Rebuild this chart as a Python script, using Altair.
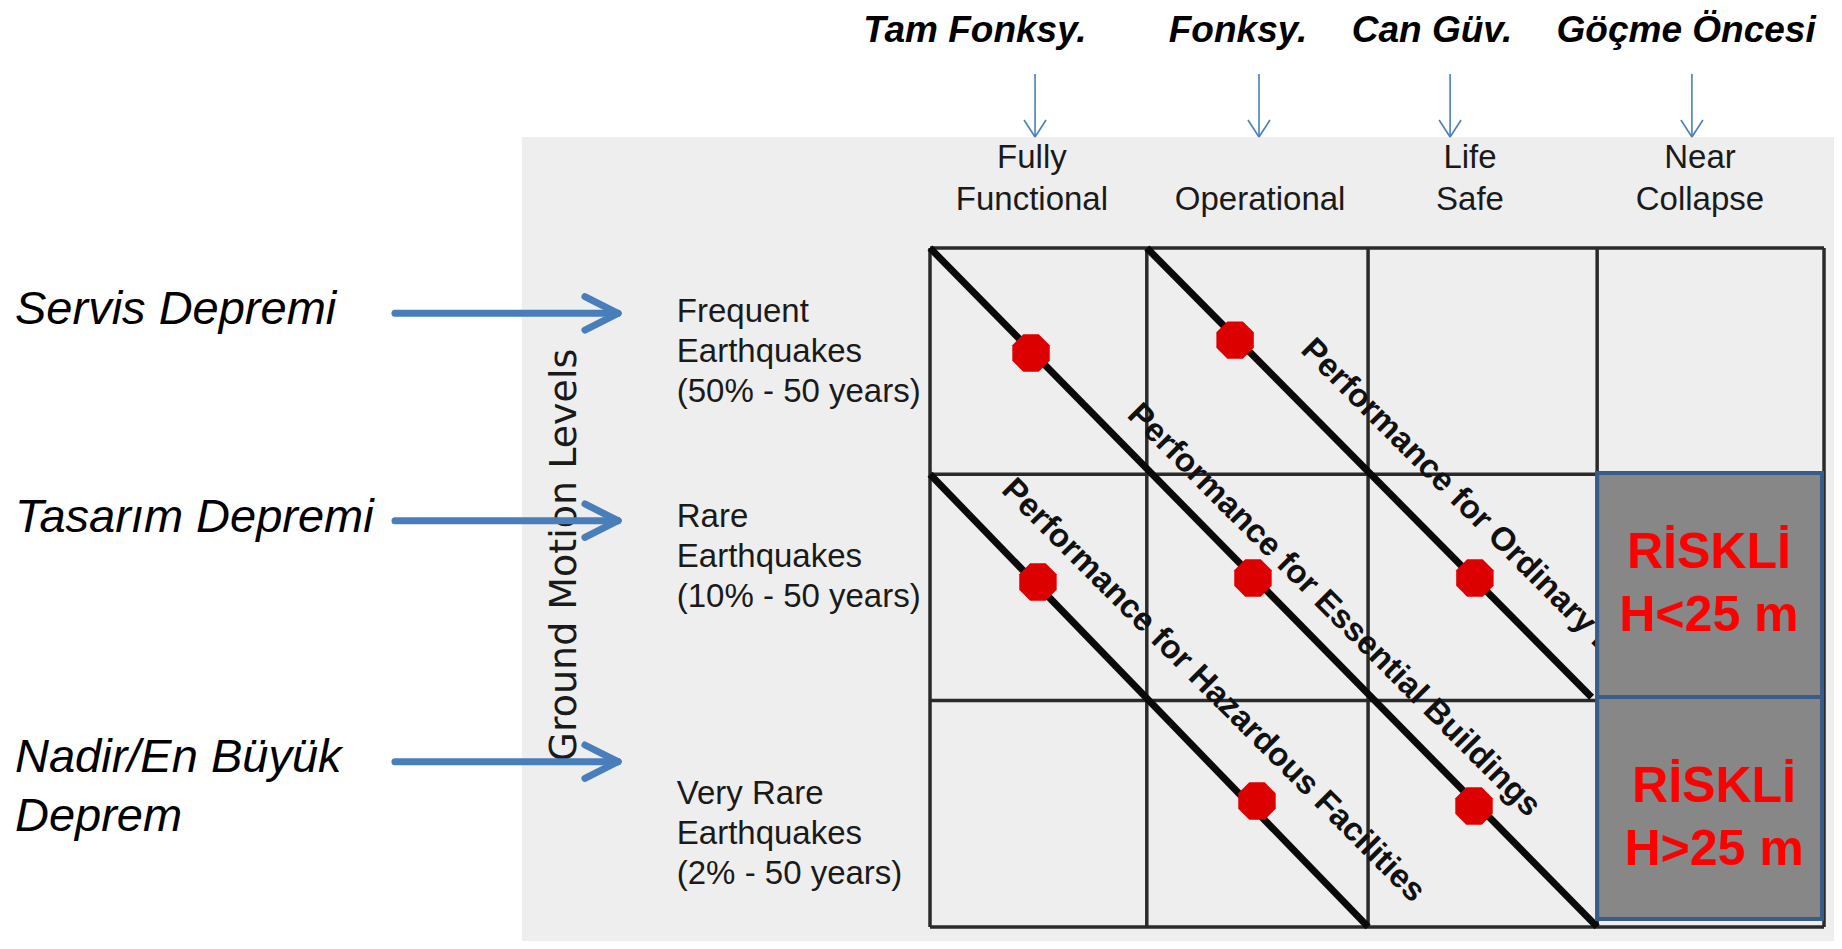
import altair as alt
import pandas as pd

# ---------------- data (grid units: 1 column / 1 row of the matrix) ----------------
# performance levels (columns)
perf_top_line = ["Fully", "", "Life", "Near"]
perf_bottom_line = ["Functional", "Operational", "Safe", "Collapse"]
perf_col = [0.456, 1.477, 2.416, 3.445]
perf_tr = ["Tam Fonksy.", "Fonksy.", "Can Güv.", "Göçme Öncesi"]
perf_tr_col = [0.201, 1.378, 2.246, 3.383]
perf_arrow_col = [0.470, 1.472, 2.327, 3.409]

# ground motion levels (rows)
gm_en = ["Frequent\nEarthquakes\n(50% - 50 years)",
         "Rare\nEarthquakes\n(10% - 50 years)",
         "Very Rare\nEarthquakes\n(2% - 50 years)"]
gm_en_row = [0.329, 1.235, 2.457]
gm_tr = ["Servis Depremi", "Tasarım Depremi", "Nadir/En Büyük\nDeprem"]
gm_tr_row = [0.336, 1.255, 2.316]
gm_arrow_row = [0.2886, 1.205, 2.270]

# grid
col_edges = [0.0, 0.97, 1.96, 2.985, 4.0]
row_edges = [0.0, 1.0, 2.0, 3.0]

# performance objectives (diagonals)
objectives = ["Performance for Ordinary Buildings",
              "Performance for Essential Buildings",
              "Performance for Hazardous Facilities"]
obj_c0 = [0.97, 0.0, 0.0]
obj_r0 = [0.0, 0.0, 1.0]
obj_c1 = [2.96, 2.985, 1.96]
obj_r1 = [1.985, 3.0, 3.0]
obj_label_c = [2.572, 1.808, 1.268]
obj_label_r = [1.302, 1.600, 1.955]

# red points
pt_col = [0.452, 1.365, 0.483, 1.445, 2.438, 1.463, 2.434]
pt_row = [0.464, 0.407, 1.476, 1.458, 1.458, 2.444, 2.466]

# risky cells
risk_text = ["RİSKLİ\nH<25 m", "RİSKLİ\nH>25 m"]
risk_c0 = [2.985, 2.985]
risk_c1 = [3.991, 3.991]
risk_r0 = [0.994, 1.984]
risk_r1 = [1.984, 2.965]
risk_label_c = [3.485, 3.508]
risk_label_r = [1.414, 2.448]

# ---------------- layout frame ----------------
X_DOM = [-4.1253, 4.0447]
Y_DOM = [-1.0605, 3.0623]
xs = alt.Scale(domain=X_DOM, nice=False, zero=False)
ys = alt.Scale(domain=Y_DOM, nice=False, zero=False, reverse=True)


def X(f):
    return alt.X(f, type="quantitative", scale=xs, axis=None)


def Y(f):
    return alt.Y(f, type="quantitative", scale=ys, axis=None)


FONT = "Liberation Sans"
BLUE = "#4a7ebb"

# scanned background
bg_df = pd.DataFrame({"x1": [-1.826], "x2": [X_DOM[1]], "y1": [-0.4905], "y2": [Y_DOM[1]]})
bg = alt.Chart(bg_df).mark_rect(color="#eeeeee").encode(
    x=X("x1"), x2="x2", y=Y("y1"), y2="y2")

# grid
grid_rows = []
for c in col_edges:
    grid_rows.append({"x1": c, "x2": c, "y1": row_edges[0], "y2": row_edges[-1]})
for r in row_edges:
    grid_rows.append({"x1": col_edges[0], "x2": col_edges[-1], "y1": r, "y2": r})
grid = alt.Chart(pd.DataFrame(grid_rows)).mark_rule(color="#2a2a2a", strokeWidth=3.5).encode(
    x=X("x1"), x2="x2", y=Y("y1"), y2="y2")

# diagonals
obj_df = pd.DataFrame({"name": objectives, "c0": obj_c0, "r0": obj_r0, "c1": obj_c1, "r1": obj_r1,
                       "lc": obj_label_c, "lr": obj_label_r})
diag = alt.Chart(obj_df).mark_rule(color="#0a0a0a", strokeWidth=7).encode(
    x=X("c0"), x2="c1", y=Y("r0"), y2="r1")
diag_text = alt.Chart(obj_df).mark_text(
    angle=45, align="center", baseline="middle", font=FONT, fontSize=33, fontWeight="bold",
    color="#111111").encode(x=X("lc"), y=Y("lr"), text="name")

# points
octagon = "M -0.414 -1 L 0.414 -1 L 1 -0.414 L 1 0.414 L 0.414 1 L -0.414 1 L -1 0.414 L -1 -0.414 Z"
pts = alt.Chart(pd.DataFrame({"c": pt_col, "r": pt_row})).mark_point(
    shape=octagon, filled=True, size=1400, color="#dd0000", opacity=1).encode(x=X("c"), y=Y("r"))

# risky boxes
risk_df = pd.DataFrame({"t": risk_text, "c0": risk_c0, "c1": risk_c1, "r0": risk_r0, "r1": risk_r1,
                        "lc": risk_label_c, "lr": risk_label_r})
risk_box = alt.Chart(risk_df).mark_rect(color="#878787", stroke="#385d8a", strokeWidth=4).encode(
    x=X("c0"), x2="c1", y=Y("r0"), y2="r1")
risk_lbl = alt.Chart(risk_df).mark_text(
    align="center", baseline="alphabetic", lineBreak="\n", lineHeight=63.5, font=FONT, fontSize=50,
    fontWeight="bold", color="#ff0000").encode(x=X("lc"), y=Y("lr"), text="t")

# column headers (English)
head_df = pd.DataFrame({"c": perf_col, "l1": perf_top_line, "l2": perf_bottom_line,
                        "v1": [-0.3535] * 4, "v2": [-0.1679] * 4})
head1 = alt.Chart(head_df).mark_text(align="center", baseline="alphabetic", font=FONT, fontSize=33,
                                     color="#1a1a1a").encode(x=X("c"), y=Y("v1"), text="l1")
head2 = alt.Chart(head_df).mark_text(align="center", baseline="alphabetic", font=FONT, fontSize=33,
                                     color="#1a1a1a").encode(x=X("c"), y=Y("v2"), text="l2")

# Turkish column labels
tr_df = pd.DataFrame({"c": perf_tr_col, "t": perf_tr, "v": [-0.910] * 4})
tr_top = alt.Chart(tr_df).mark_text(align="center", baseline="alphabetic", font=FONT, fontSize=37,
                                    fontWeight="bold", fontStyle="italic", color="#000000").encode(
    x=X("c"), y=Y("v"), text="t")

# thin arrows down
seg = []
for c in perf_arrow_col:
    seg.append({"x1": c, "x2": c, "y1": -0.769, "y2": -0.4905})
    seg.append({"x1": c - 0.0492, "x2": c, "y1": -0.5656, "y2": -0.4905})
    seg.append({"x1": c + 0.0492, "x2": c, "y1": -0.5656, "y2": -0.4905})
top_arrows = alt.Chart(pd.DataFrame(seg)).mark_rule(color=BLUE, strokeWidth=1.6).encode(
    x=X("x1"), x2="x2", y=Y("y1"), y2="y2")

# row labels (English)
gm_df = pd.DataFrame({"t": gm_en, "r": gm_en_row, "c": [-1.133] * 3})
gm_lbl = alt.Chart(gm_df).mark_text(align="left", baseline="alphabetic", lineBreak="\n", lineHeight=40,
                                    font=FONT, fontSize=33, color="#1a1a1a").encode(
    x=X("c"), y=Y("r"), text="t")

# vertical axis label
gml_df = pd.DataFrame({"t": ["Ground Motion Levels"], "c": [-1.585], "r": [1.357]})
gml = alt.Chart(gml_df).mark_text(angle=270, align="center", baseline="alphabetic",
                                  font="DejaVu Sans", fontSize=38, color="#1a1a1a").encode(
    x=X("c"), y=Y("r"), text="t")

# Turkish row labels
gmtr_df = pd.DataFrame({"t": gm_tr, "r": gm_tr_row, "c": [-4.094] * 3})
gm_tr_lbl = alt.Chart(gmtr_df).mark_text(align="left", baseline="alphabetic", lineBreak="\n",
                                         lineHeight=58.5, font=FONT, fontSize=47, fontStyle="italic",
                                         color="#000000").encode(x=X("c"), y=Y("r"), text="t")

# thick blue arrows
seg2 = []
for r in gm_arrow_row:
    seg2.append({"x1": -2.394, "x2": -1.396, "y1": r, "y2": r})
    seg2.append({"x1": -1.544, "x2": -1.396, "y1": r - 0.0738, "y2": r})
    seg2.append({"x1": -1.544, "x2": -1.396, "y1": r + 0.0738, "y2": r})
side_arrows = alt.Chart(pd.DataFrame(seg2)).mark_rule(color=BLUE, strokeWidth=7, strokeCap="round").encode(
    x=X("x1"), x2="x2", y=Y("y1"), y2="y2")

chart = alt.layer(
    bg, grid, diag, pts, diag_text, risk_box, risk_lbl, head1, head2, tr_top, top_arrows,
    gm_lbl, gml, gm_tr_lbl, side_arrows
).properties(width=1826, height=933, padding=0, background="white").configure_view(stroke=None)

chart.save("out.html", embed_options={"renderer": "svg", "actions": False})
